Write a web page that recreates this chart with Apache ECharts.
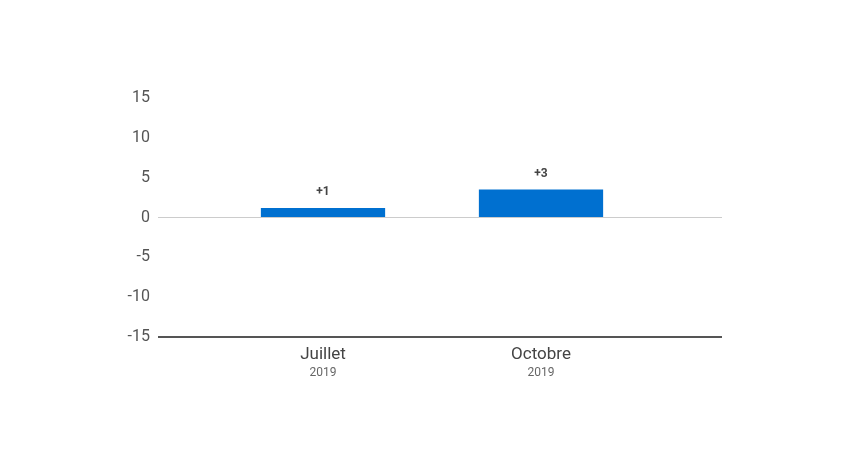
<!DOCTYPE html>
<html><head><meta charset="utf-8">
<script src="https://cdn.jsdelivr.net/npm/echarts@6/dist/echarts.min.js"></script>
<style>html,body{margin:0;padding:0;background:#fff}#c{width:848px;height:450px}</style>
</head><body><div id="c"></div>
<script>
const categories = ['Juillet', 'Octobre'];
const years = ['2019', '2019'];
const values = [1.2, 3.5];
const labels = ['+1', '+3'];
const yTicks = { min: -15, max: 15, interval: 5 };

const chart = echarts.init(document.getElementById('c'));
chart.setOption({
  animation: false,
  grid: [
    { left: 214, right: 198, top: 98, bottom: 113 },
    { left: 158, right: 126, top: 98, bottom: 113 }
  ],
  xAxis: [{
    type: 'category', data: categories, gridIndex: 0,
    axisLine: { show: false }, axisTick: { show: false },
    axisLabel: {
      margin: 8,
      formatter: (v, i) => '{a|' + v + '}\n{b|' + years[i] + '}',
      rich: {
        a: { fontFamily: 'Roboto', fontSize: 17, color: '#444', lineHeight: 20 },
        b: { fontFamily: 'Roboto', fontSize: 12, color: '#666', lineHeight: 16 }
      }
    }
  }, {
    type: 'value', gridIndex: 1, min: 0, max: 1, show: false
  }],
  yAxis: [{
    type: 'value', gridIndex: 0, min: yTicks.min, max: yTicks.max, interval: yTicks.interval,
    axisLine: { show: false }, axisTick: { show: false }, splitLine: { show: false },
    axisLabel: { show: false }
  }, {
    type: 'value', gridIndex: 1, min: yTicks.min, max: yTicks.max, interval: yTicks.interval,
    axisLine: { show: false }, axisTick: { show: false }, splitLine: { show: false },
    axisLabel: { fontFamily: 'Roboto', fontSize: 16, color: '#555', margin: 8 }
  }],
  series: [{
    type: 'line', xAxisIndex: 1, yAxisIndex: 1, data: [], silent: true,
    markLine: {
      silent: true, symbol: 'none', label: { show: false },
      data: [
        { yAxis: 0, lineStyle: { color: '#ccc', width: 1, type: 'solid' } },
        { yAxis: -15, lineStyle: { color: '#555', width: 2, type: 'solid' } }
      ]
    }
  }, {
    type: 'bar', data: values, barWidth: '57%', z: 3,
    itemStyle: { color: '#0070d0' },
    label: {
      show: true, position: 'top', distance: 10,
      formatter: p => labels[p.dataIndex],
      fontFamily: 'Roboto', fontSize: 12, fontWeight: 'bold', color: '#444'
    }
  }]
});
</script></body></html>
